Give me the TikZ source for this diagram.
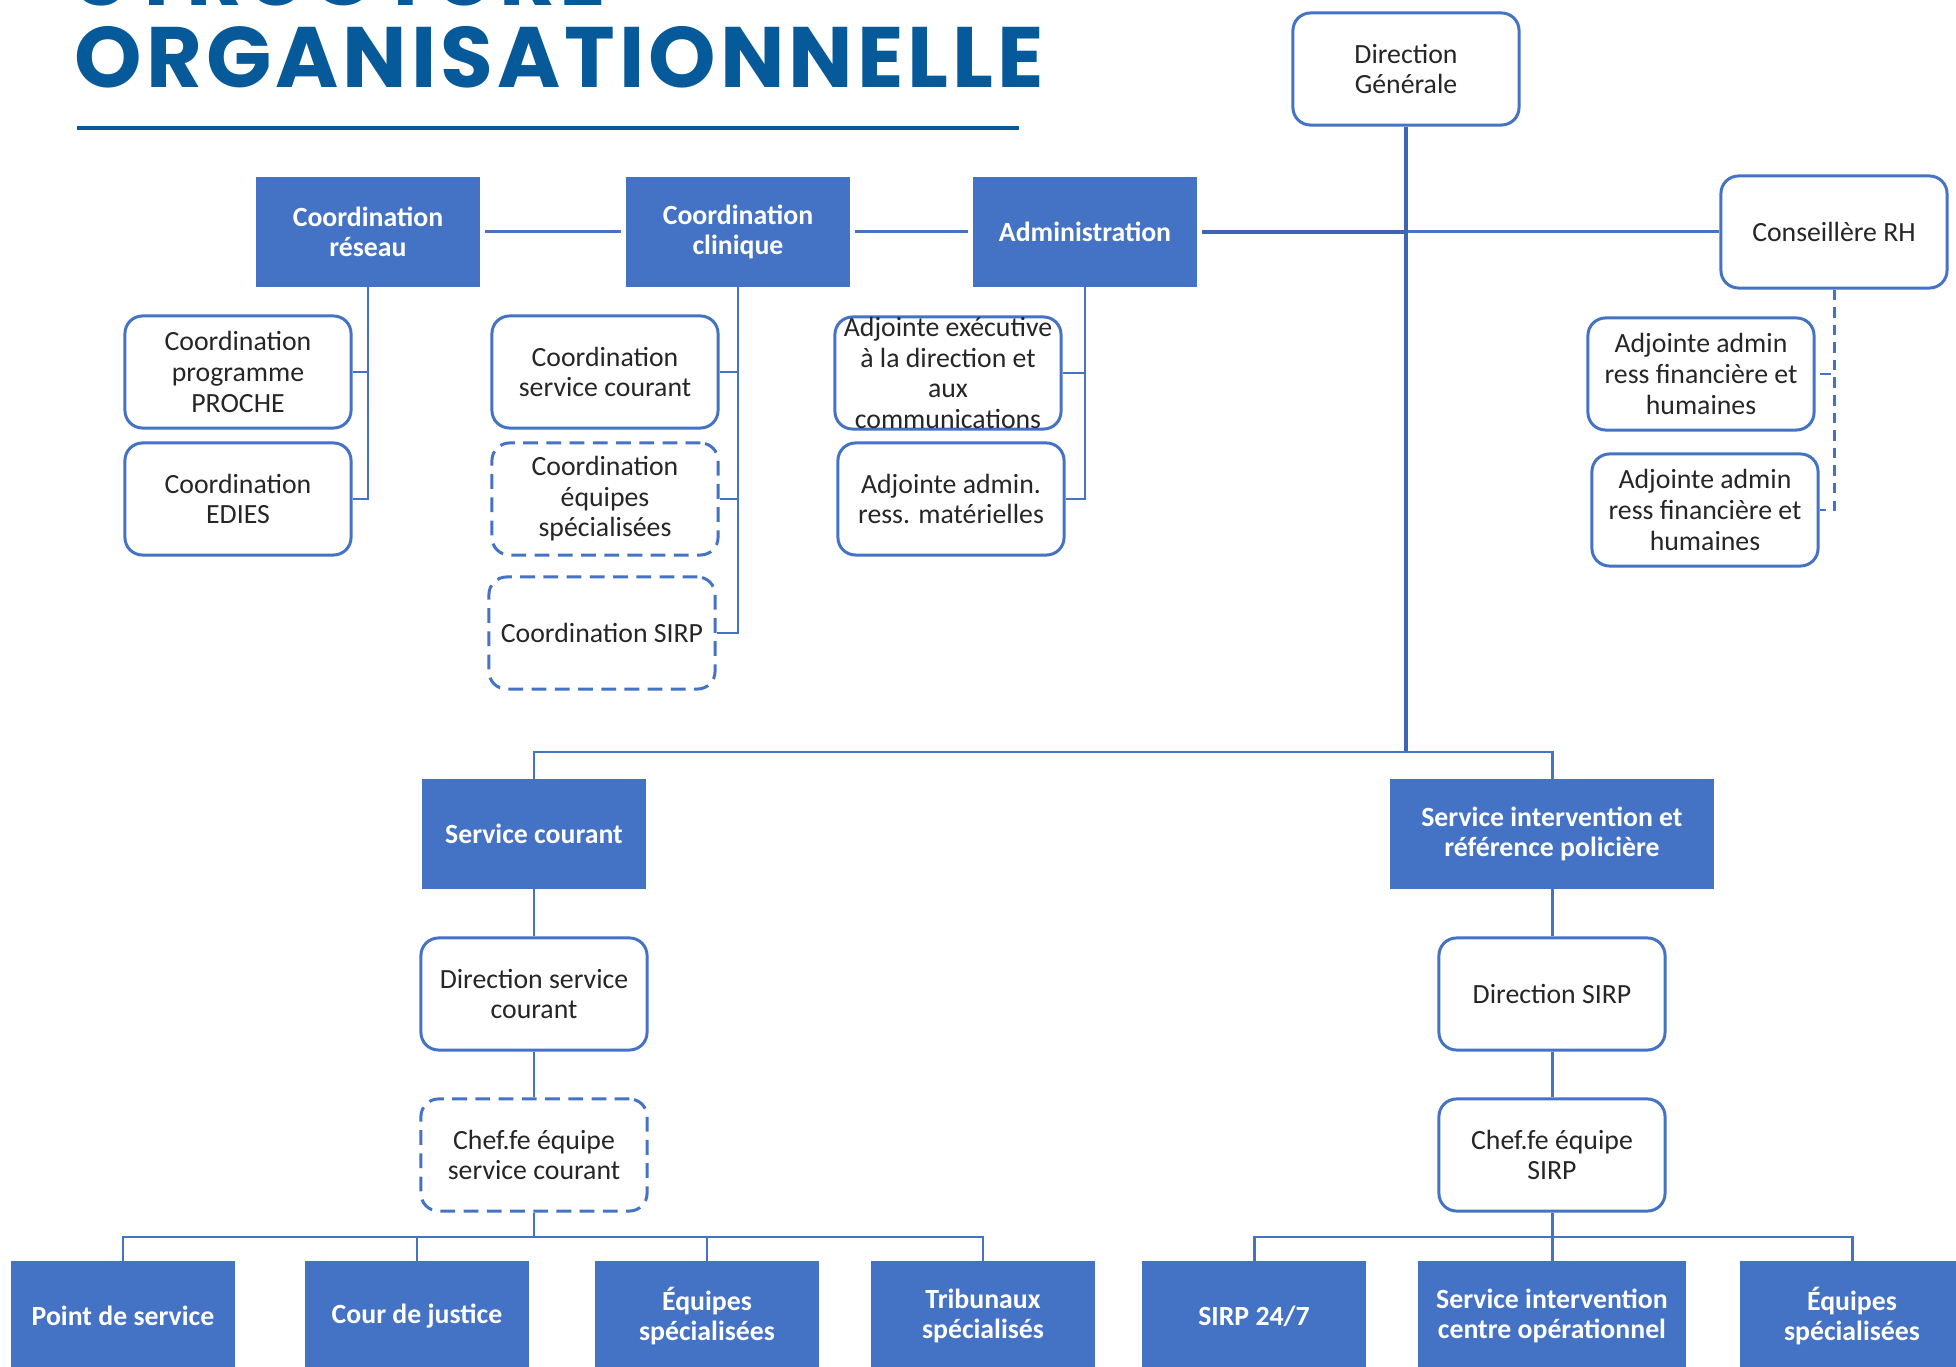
\documentclass[tikz,border=0pt]{standalone}
\usepackage{fontspec}
\setmainfont{Carlito}
\newfontfamily\titlefont[LetterSpace=4.7]{Poppins}
\usepackage{tikz}

\definecolor{boxblue}{HTML}{4472C4}
\definecolor{linkblue}{HTML}{3E64B4}
\definecolor{titleblue}{HTML}{065A9A}

\tikzset{
  unit/.style = {rectangle, fill = boxblue, draw = boxblue, text = white,
    font = \fontsize{7.9}{8.7}\selectfont\bfseries, align = center,
    minimum width = 2.22cm, minimum height = 1.08cm, inner sep = 1pt},
  role/.style = {rectangle, rounded corners = 5pt, draw = boxblue, line width = 0.85pt,
    fill = white, text = black!85, font = \fontsize{7.9}{8.7}\selectfont, align = center,
    minimum width = 2.26cm, minimum height = 1.12cm, inner sep = 1pt},
  vacant/.style = {role, dash pattern = on 4.2pt off 2.4pt},
  link/.style = {draw = boxblue, line width = 0.85pt},
  mainlink/.style = {draw = linkblue, line width = 1.4pt},
  dashlink/.style = {link, dash pattern = on 3pt off 2pt}
}

\begin{document}
\begin{tikzpicture}[x = 0.01cm, y = -0.01cm]
\useasboundingbox (0,0) rectangle (1956,1367);

% titre
\node[anchor = base west, inner sep = 0, text = titleblue, font = \titlefont\bfseries\fontsize{24.4}{26}\selectfont] (titre1) at (74,6) {STRUCTURE};
\node[anchor = base west, inner sep = 0, text = titleblue, font = \titlefont\bfseries\fontsize{24.4}{26}\selectfont] (titre2) at (74,88) {ORGANISATIONNELLE};
\draw[titleblue, line width = 0.9pt] (77,128) -- (1019,128);

% direction
\node[role] (dg) at (1406,69) {Direction\\Générale};
\node[unit] (reseau) at (368,232) {Coordination\\réseau};
\node[unit] (clinique) at (738,232) {Coordination\\clinique};
\node[unit] (admin) at (1085,232) {Administration};
\node[role] (rh) at (1834,232) {Conseillère RH};

\node[role] (proche) at (238,372) {Coordination\\programme\\PROCHE};
\node[role] (edies) at (238,499) {Coordination\\EDIES};
\node[role] (coordsc) at (605,372) {Coordination\\service courant};
\node[vacant] (coordeq) at (605,499) {Coordination\\équipes\\spécialisées};
\node[vacant] (coordsirp) at (602,633) {Coordination SIRP};
\node[role, inner ysep = -3pt] (adjexec) at (948,373) {Adjointe exécutive\\à la direction et\\aux\\communications};
\node[role] (adjmat) at (951,499) {Adjointe admin.\\ress. matérielles};
\node[role] (adjrh1) at (1701,374) {Adjointe admin\\ress financière et\\humaines};
\node[role] (adjrh2) at (1705,510) {Adjointe admin\\ress financière et\\humaines};

% services
\coordinate (hub) at (1406,752);
\node[unit] (courant) at (534,834) {Service courant};
\node[unit, minimum width = 3.23cm] (sirp) at (1552,834) {Service intervention et\\référence policière};
\node[role] (dircourant) at (534,994) {Direction service\\courant};
\node[vacant] (chefcourant) at (534,1155) {Chef.fe équipe\\service courant};
\node[role] (dirsirp) at (1552,994) {Direction SIRP};
\node[role] (chefsirp) at (1552,1155) {Chef.fe équipe\\SIRP};

\coordinate (busL) at (534,1237);
\coordinate (busR) at (1552,1237);
\node[unit] (pds) at (123,1316) {Point de service};
\node[unit] (cour) at (417,1316) {Cour de justice};
\node[unit] (eqcourant) at (707,1316) {Équipes\\spécialisées};
\node[unit] (trib) at (983,1316) {Tribunaux\\spécialisés};
\node[unit] (sirp247) at (1254,1316) {SIRP 24/7};
\node[unit, minimum width = 2.67cm] (centre) at (1552,1316) {Service intervention\\centre opérationnel};
\node[unit] (eqsirp) at (1852,1316) {Équipes\\spécialisées};

% liens
\draw[link, shorten < = 1.5pt, shorten > = 1.5pt] (reseau) -- (clinique);
\draw[link, shorten < = 1.5pt, shorten > = 1.5pt] (clinique) -- (admin);
\draw[mainlink, shorten < = 1.5pt] (admin.east) -- (dg.south |- admin.east);
\draw[link] (dg.south |- admin.east) -- (rh.west);
\draw[mainlink] (dg.south) -- (hub);
\draw[link] (hub) -| (courant.north);
\draw[link] (hub) -| (sirp.north);

\draw[link] (reseau.south) |- (proche.east);
\draw[link] (reseau.south) |- (edies.east);
\draw[link] (clinique.south) |- (coordsc.east);
\draw[link] (clinique.south) |- (coordeq.east);
\draw[link] (clinique.south) |- (coordsirp.east);
\draw[link] (admin.south) |- (adjexec.east);
\draw[link] (admin.south) |- (adjmat.east);
\draw[dashlink] (rh.south) |- (adjrh1.east);
\draw[dashlink] (rh.south) |- (adjrh2.east);

\draw[link] (courant) -- (dircourant);
\draw[link] (dircourant) -- (chefcourant);
\draw[link] (sirp) -- (dirsirp);
\draw[link] (dirsirp) -- (chefsirp);

\draw[link] (chefcourant) -- (busL);
\draw[link] (busL) -| (pds.north);
\draw[link] (busL) -| (cour.north);
\draw[link] (busL) -| (eqcourant.north);
\draw[link] (busL) -| (trib.north);
\draw[link] (chefsirp) -- (busR);
\draw[link] (busR) -| (sirp247.north);
\draw[link] (busR) -| (centre.north);
\draw[link] (busR) -| (eqsirp.north);

\end{tikzpicture}
\end{document}
